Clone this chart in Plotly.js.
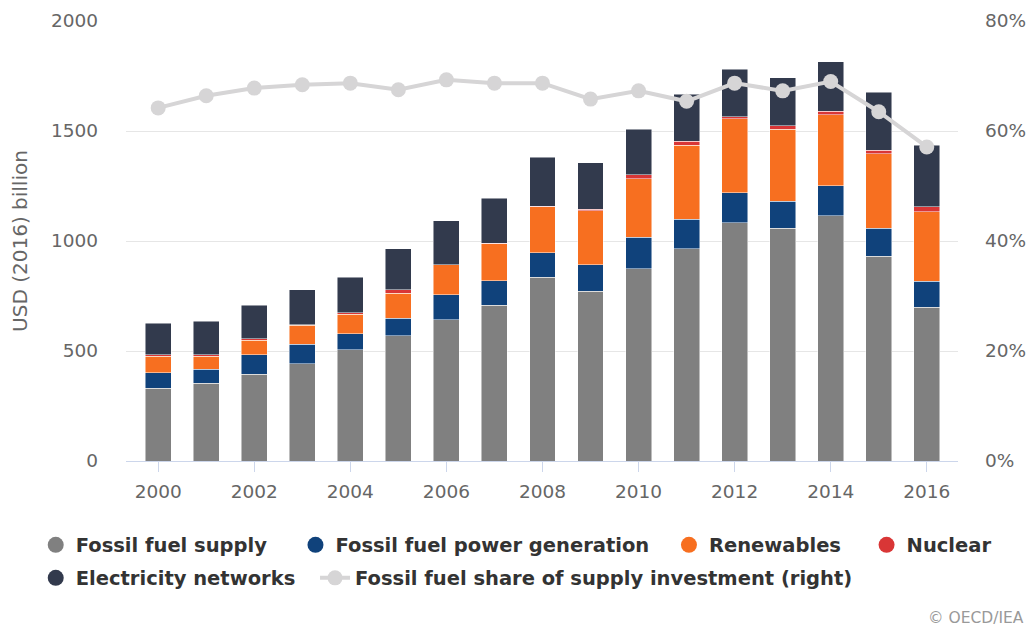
<!DOCTYPE html>
<html>
<head>
<meta charset="utf-8">
<script src="https://cdn.plot.ly/plotly-3.0.1.min.js"></script>
<style>html,body{margin:0;padding:0;background:#fff;}#chart{width:1028px;height:626px;}</style>
</head>
<body>
<div id="chart"></div>
<script>
const years = [2000,2001,2002,2003,2004,2005,2006,2007,2008,2009,2010,2011,2012,2013,2014,2015,2016];
const fossilSupply = [330,353,394,442,506,570,642,708,835,771,874,964,1083,1059,1115,930,699];
const fossilPower = [71,65,88,88,73,80,113,112,112,120,144,136,137,121,136,129,119];
const renewables = [76,59,67,88,88,112,136,168,209,247,265,336,336,329,322,338,314];
const nuclear = [5,5,6,2,7,17,2,2,2,7,19,17,9,15,16,15,23];
const networks = [145,153,153,159,162,186,199,205,222,211,207,215,215,217,225,264,280];
const fossilShare = [64.2,66.4,67.8,68.4,68.7,67.5,69.3,68.7,68.7,65.8,67.3,65.4,68.7,67.3,69.0,63.5,57.1];
const xTicks = [2000,2002,2004,2006,2008,2010,2012,2014,2016];

const names = ['Fossil fuel supply','Fossil fuel power generation','Renewables','Nuclear','Electricity networks'];
const lineName = 'Fossil fuel share of supply investment (right)';
const colors = ['#808080','#10427b','#f76f20','#d93636','#323a4d'];
const series = [fossilSupply, fossilPower, renewables, nuclear, networks];

const FONT = 'DejaVu Sans, Open Sans, sans-serif';
const traces = [];
series.forEach((s,i)=>{
  traces.push({type:'bar', x:years, y:s, name:names[i], showlegend:false,
    marker:{color:colors[i], line:{color:'rgba(255,255,255,0.6)', width:0.8}},
    hoverinfo:'skip'});
});
// legend entries with circle symbols, one legend box per entry
names.forEach((n,i)=>{
  traces.push({type:'scatter', mode:'markers', x:[null], y:[null], name:n,
    legend: i === 0 ? 'legend' : 'legend' + (i+1),
    marker:{symbol:'circle', size:19, color:colors[i]}, hoverinfo:'skip'});
});
traces.push({type:'scatter', mode:'lines+markers', x:years, y:fossilShare, yaxis:'y2',
  name:lineName, legend:'legend6',
  line:{color:'#d6d5d6', width:4}, marker:{color:'#d6d5d6', size:15}, hoverinfo:'skip'});

const tickFont = {family:FONT, size:18.5, color:'#666666'};
const legendFont = {family:FONT, size:19.5, color:'#333333', weight:700};
function leg(x, y){
  return {orientation:'h', traceorder:'normal', xref:'paper', yref:'paper', x:x, y:y,
    xanchor:'left', yanchor:'top', font:legendFont, itemsizing:'trace', bgcolor:'rgba(0,0,0,0)'};
}
const row1 = -0.147, row2 = -0.222;
const layout = {
  width:1028, height:626,
  margin:{l:126, r:70, t:21, b:165},
  paper_bgcolor:'#ffffff', plot_bgcolor:'#ffffff',
  barmode:'stack', bargap:0.46,
  showlegend:true,
  xaxis:{range:[1999.33,2016.65], tickvals:xTicks, ticktext:xTicks.map(String),
    ticks:'outside', ticklen:10, tickcolor:'#ccd6eb', tickwidth:1,
    showline:true, linecolor:'#ccd6eb', linewidth:1, showgrid:false, zeroline:false,
    tickfont:tickFont, ticklabelstandoff:4, fixedrange:true},
  yaxis:{range:[0,2000], dtick:500, tickformat:'d', gridcolor:'#e6e6e6', gridwidth:1,
    zeroline:false, tickfont:tickFont, ticklabelstandoff:27,
    title:{text:'USD (2016) billion', font:{family:FONT, size:20, color:'#666666'}, standoff:17}},
  yaxis2:{range:[0,80], dtick:20, ticksuffix:'%', overlaying:'y', side:'right',
    showgrid:false, zeroline:false, tickfont:tickFont, ticklabelstandoff:26},
  legend:leg(-0.1085, row1),
  legend2:leg(0.2037, row1),
  legend3:leg(0.6526, row1),
  legend4:leg(0.8901, row1),
  legend5:leg(-0.1085, row2),
  legend6:leg(0.2272, row2),
  annotations:[{xref:'paper', yref:'paper', x:1.082, y:-0.357, xanchor:'right', yanchor:'middle',
    text:'© OECD/IEA', showarrow:false,
    font:{family:FONT, size:15.5, color:'#999999'}}]
};
Plotly.newPlot('chart', traces, layout, {staticPlot:true, displayModeBar:false});
</script>
</body>
</html>
